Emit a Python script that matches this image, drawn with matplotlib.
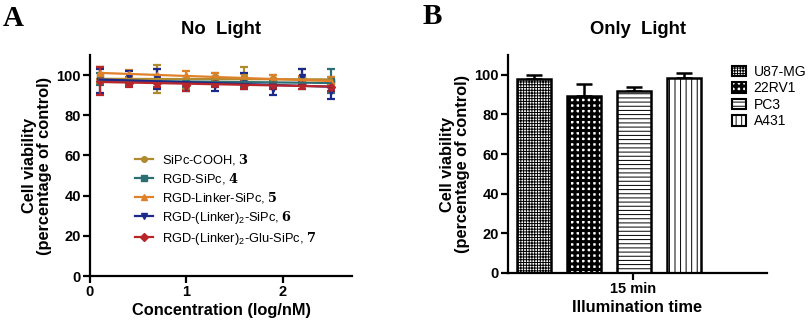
import numpy as np
import matplotlib
matplotlib.use("Agg")
import matplotlib.pyplot as plt
from matplotlib.patches import Patch
from matplotlib.lines import Line2D

plt.rcParams['font.family'] = ['Liberation Sans', 'DejaVu Sans']
plt.rcParams['mathtext.fontset'] = 'custom'
plt.rcParams['mathtext.rm'] = 'Liberation Sans'
plt.rcParams['mathtext.bf'] = 'DejaVu Serif:bold'
plt.rcParams['mathtext.it'] = 'Liberation Sans:italic'
plt.rcParams['hatch.linewidth'] = 0.7

# ---------------- Panel A data ----------------
conc = [0.1, 0.4, 0.7, 1.0, 1.3, 1.6, 1.9, 2.2, 2.5]
series_names = [r"SiPc-COOH, $\mathbf{3}$",
                r"RGD-SiPc, $\mathbf{4}$",
                r"RGD-Linker-SiPc, $\mathbf{5}$",
                r"RGD-(Linker)$_{\mathrm{2}}$-SiPc, $\mathbf{6}$",
                r"RGD-(Linker)$_{\mathrm{2}}$-Glu-SiPc, $\mathbf{7}$"]
sipc_cooh = [100, 97, 98, 95, 99, 99, 98, 99, 97]
sipc_cooh_err = [4, 2, 7, 2, 2, 5, 2, 4, 2]
rgd_sipc = [98, 97, 97, 96, 97, 96, 96, 96, 97]
rgd_sipc_err = [3, 2, 3, 2, 2, 2, 2, 3, 6]
rgd_linker = [101, 100.5, 100, 100, 99, 98.5, 98, 97.5, 97]
rgd_linker_err = [3, 2, 3, 2, 2, 2, 2, 2, 2]
rgd_linker2 = [97, 99, 98, 94, 95, 97, 93, 99, 92]
rgd_linker2_err = [6, 3, 5, 2, 3, 4, 3, 4, 4]
rgd_linker2_glu = [97, 96, 96, 95, 96, 95, 95, 95, 94]
rgd_linker2_glu_err = [7, 2, 2, 3, 2, 2, 2, 2, 2]

series_vals = [sipc_cooh, rgd_sipc, rgd_linker, rgd_linker2, rgd_linker2_glu]
series_errs = [sipc_cooh_err, rgd_sipc_err, rgd_linker_err, rgd_linker2_err, rgd_linker2_glu_err]
series_colors = ['#B08A2E', '#2C6E72', '#E0812A', '#1B2A8A', '#B8262A']
series_markers = ['o', 's', '^', 'v', 'D']

# ---------------- Panel B data ----------------
cell_lines = ['U87-MG', '22RV1', 'PC3', 'A431']
viability = [98, 89.5, 92, 98.5]
viability_err = [2, 6, 2, 2.5]
hatches = ['++++++', '+++', '----', '|||']
hatch_lws = [0.7, 2.2, 0.7, 0.7]
time_label = ['15 min']

fig = plt.figure(figsize=(8.11, 3.26), dpi=100)

def style_axes(ax):
    for s in ['top', 'right']:
        ax.spines[s].set_visible(False)
    for s in ['left', 'bottom']:
        ax.spines[s].set_linewidth(1.6)
    ax.tick_params(axis='both', which='major', length=5, width=1.6,
                   labelsize=10.5, pad=1.5)
    for lab in ax.get_xticklabels() + ax.get_yticklabels():
        lab.set_fontweight('bold')

def set_hlw(p, lw):
    if hasattr(p, 'set_hatch_linewidth'):
        try:
            p.set_hatch_linewidth(lw)
        except Exception:
            pass

# ---- Panel A ----
axA = fig.add_axes([90/811, 50/326, 262/811, 221/326])
xs = np.array(conc)
handles = []
for vals, errs, col, mk, name in zip(series_vals, series_errs, series_colors,
                                      series_markers, series_names):
    axA.errorbar(conc, vals, yerr=errs, fmt=mk, color=col, ms=4.5,
                 elinewidth=1.6, capsize=3, capthick=1.6, zorder=3)
    coef = np.polyfit(xs, np.array(vals, dtype=float), 1)
    axA.plot([xs[0], xs[-1]], np.polyval(coef, [xs[0], xs[-1]]), color=col,
             lw=1.6, zorder=4)
    handles.append(Line2D([], [], color=col, marker=mk, ms=4, lw=1.6, label=name))
axA.set_xlim(0, 2.72)
axA.set_ylim(0, 110)
axA.set_xticks([0, 1, 2])
axA.set_yticks([0, 20, 40, 60, 80, 100])
style_axes(axA)
axA.set_xlabel('Concentration (log/nM)', fontsize=11.8, fontweight='bold', labelpad=3)
axA.set_ylabel('Cell viability\n(percentage of control)', fontsize=11.8,
               fontweight='bold', labelpad=3, linespacing=1.05)
axA.set_title('No  Light', fontsize=13.3, fontweight='bold', pad=15)
leg = axA.legend(handles=handles, loc='upper left', bbox_to_anchor=(0.17, 0.56),
                 frameon=False, fontsize=9.3, handlelength=1.45, handletextpad=0.7,
                 labelspacing=0.3, borderpad=0, borderaxespad=0)

# ---- Panel B ----
axB = fig.add_axes([508/811, 53/326, 259/811, 218/326])
pos = np.arange(len(cell_lines))
bars = axB.bar(pos, viability, width=0.68, color='white', edgecolor='black',
               linewidth=1.8, zorder=2)
for b, h, lw in zip(bars, hatches, hatch_lws):
    b.set_hatch(h)
    set_hlw(b, lw)
axB.errorbar(pos, viability, yerr=[np.zeros(len(viability)), viability_err],
             fmt='none', ecolor='black', elinewidth=1.8, capsize=6, capthick=1.8,
             zorder=1)
axB.set_xlim(-0.52, 4.66)
axB.set_ylim(0, 110)
axB.set_xticks([1.98])
axB.set_xticklabels(time_label)
axB.set_yticks([0, 20, 40, 60, 80, 100])
style_axes(axB)
axB.set_xlabel('Illumination time', fontsize=11.8, fontweight='bold', labelpad=3)
axB.set_ylabel('Cell viability\n(percentage of control)', fontsize=11.8,
               fontweight='bold', labelpad=3, linespacing=1.05)
axB.set_title('Only  Light', fontsize=13.3, fontweight='bold', pad=15)
leg_handles = []
for c, h, lw in zip(cell_lines, hatches, hatch_lws):
    p = Patch(facecolor='white', edgecolor='black', hatch=h, linewidth=1.5, label=c)
    set_hlw(p, lw)
    leg_handles.append(p)
legB = axB.legend(handles=leg_handles, loc='upper left', bbox_to_anchor=(0.865, 0.955),
                  frameon=False, fontsize=10, handlelength=1.0, handleheight=0.75,
                  handletextpad=0.55, labelspacing=0.18, borderpad=0, borderaxespad=0)
for p, lw in zip(legB.get_patches(), hatch_lws):
    set_hlw(p, lw)

fig.text(3/811, 1 - 5/326, 'A', fontsize=21, fontweight='bold',
         family='Liberation Serif', va='top', ha='left')
fig.text(423/811, 1 - 3/326, 'B', fontsize=21, fontweight='bold',
         family='Liberation Serif', va='top', ha='left')

fig.savefig('out.png', dpi=100)
